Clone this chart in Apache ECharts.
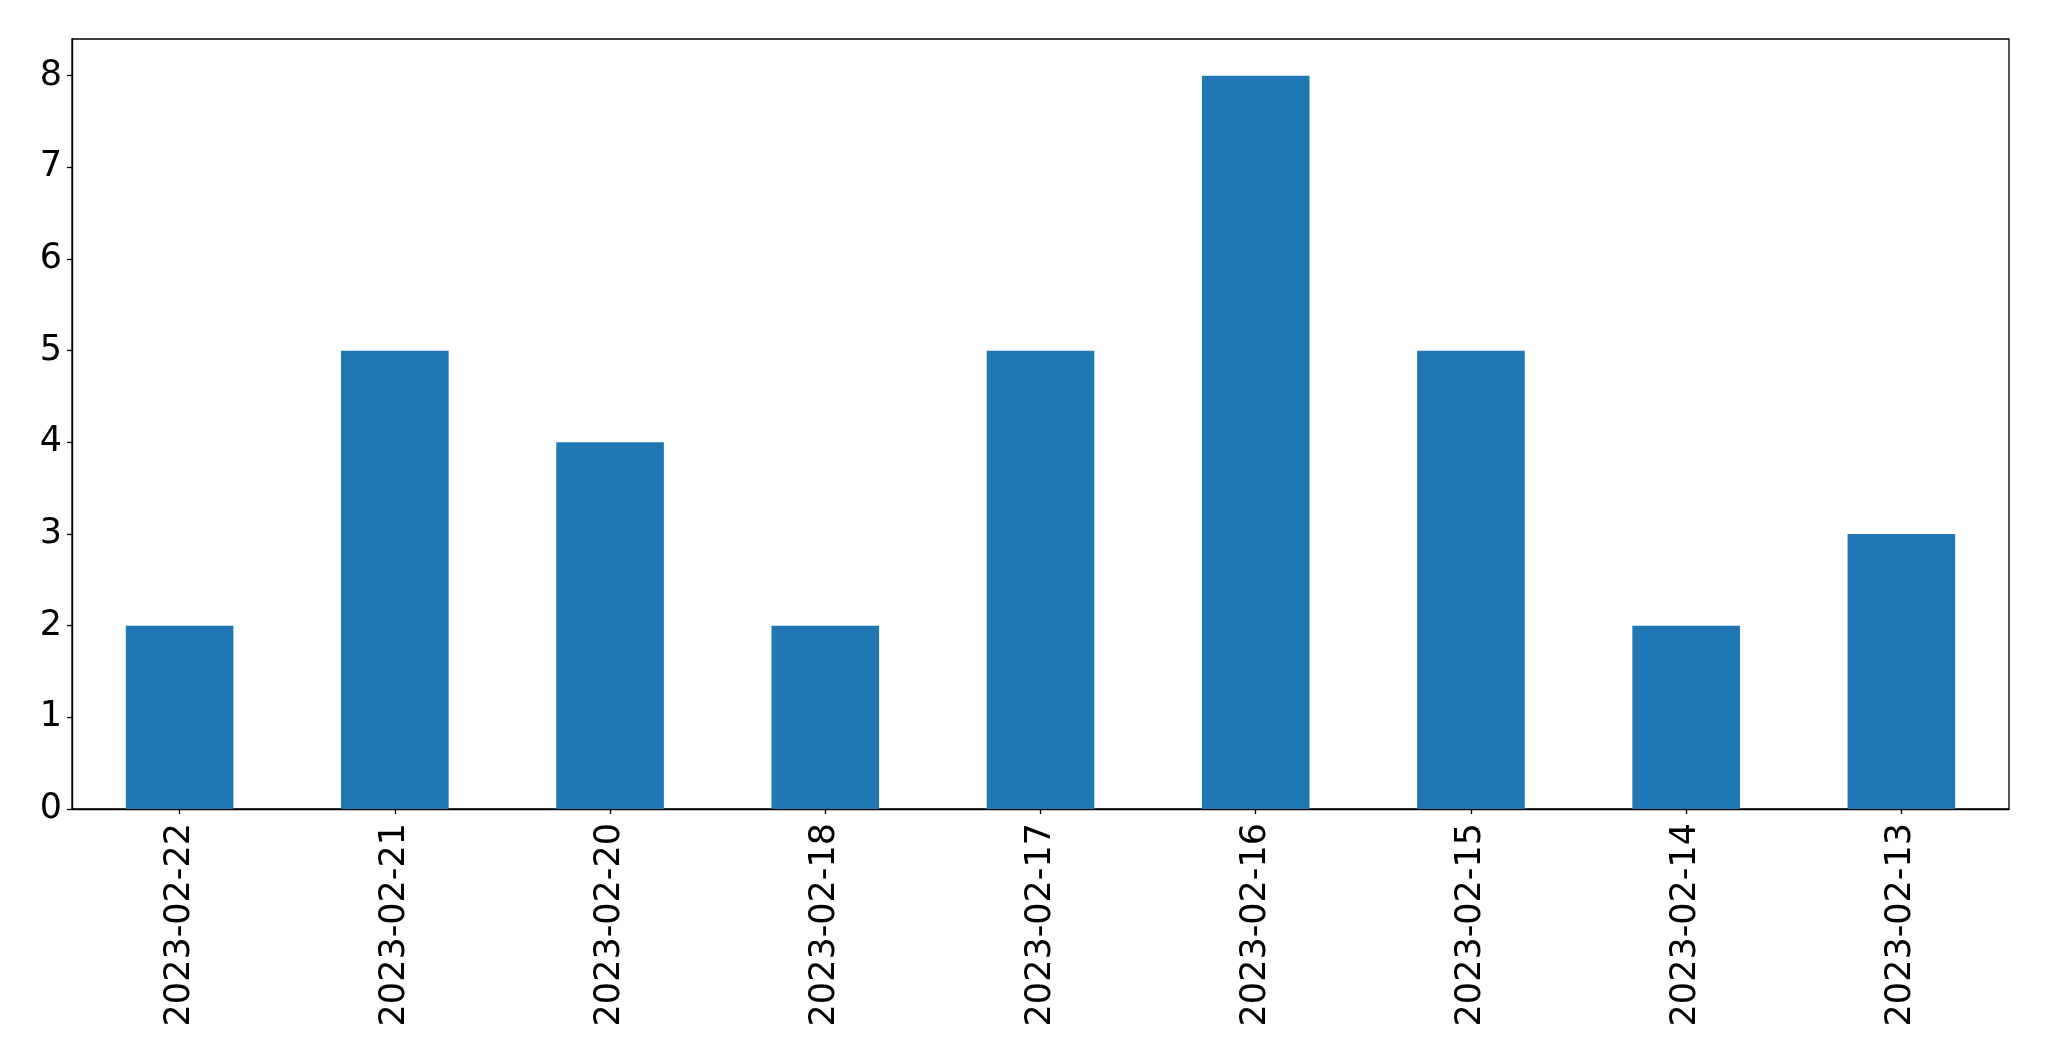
<!DOCTYPE html>
<html>
<head>
<meta charset="utf-8">
<script src="https://cdn.jsdelivr.net/npm/echarts@6/dist/echarts.min.js"></script>
<style>html,body{margin:0;padding:0;background:#fff;}#c{width:2049px;height:1061px;}</style>
</head>
<body>
<div id="c"></div>
<script>
const categories = ["2023-02-22","2023-02-21","2023-02-20","2023-02-18","2023-02-17","2023-02-16","2023-02-15","2023-02-14","2023-02-13"];
const values = [2,5,4,2,5,8,5,2,3];
const yTicks = [0,1,2,3,4,5,6,7,8];

const chart = echarts.init(document.getElementById('c'), null, {renderer:'canvas'});
const font = 'DejaVu Sans';
chart.setOption({
  animation: false,
  backgroundColor: '#ffffff',
  grid: {left: 72, right: 40, top: 39, bottom: 252, show: true, borderColor: '#000', borderWidth: 1.3, backgroundColor: 'transparent'},
  xAxis: {
    type: 'category',
    data: categories,
    boundaryGap: true,
    axisLine: {show: true, lineStyle: {color: '#000', width: 1.3}},
    axisTick: {show: true, alignWithLabel: true, length: 5, lineStyle: {color: '#000', width: 1.3}},
    axisLabel: {rotate: 90, fontSize: 35, fontFamily: font, color: '#000', margin: 14, interval: 0}
  },
  yAxis: {
    type: 'value',
    min: 0, max: 8.4, interval: 1,
    splitLine: {show: false},
    axisLine: {show: true, lineStyle: {color: '#000', width: 1.3}},
    axisTick: {show: true, length: 5, lineStyle: {color: '#000', width: 1.3}, customValues: yTicks},
    axisLabel: {fontSize: 35, fontFamily: font, color: '#000', margin: 10, customValues: yTicks,
      formatter: v => Number.isInteger(v) ? String(v) : ''}
  },
  series: [{
    type: 'bar',
    data: values,
    barWidth: '50%',
    itemStyle: {color: '#1f77b4'}
  }]
});
</script>
</body>
</html>
